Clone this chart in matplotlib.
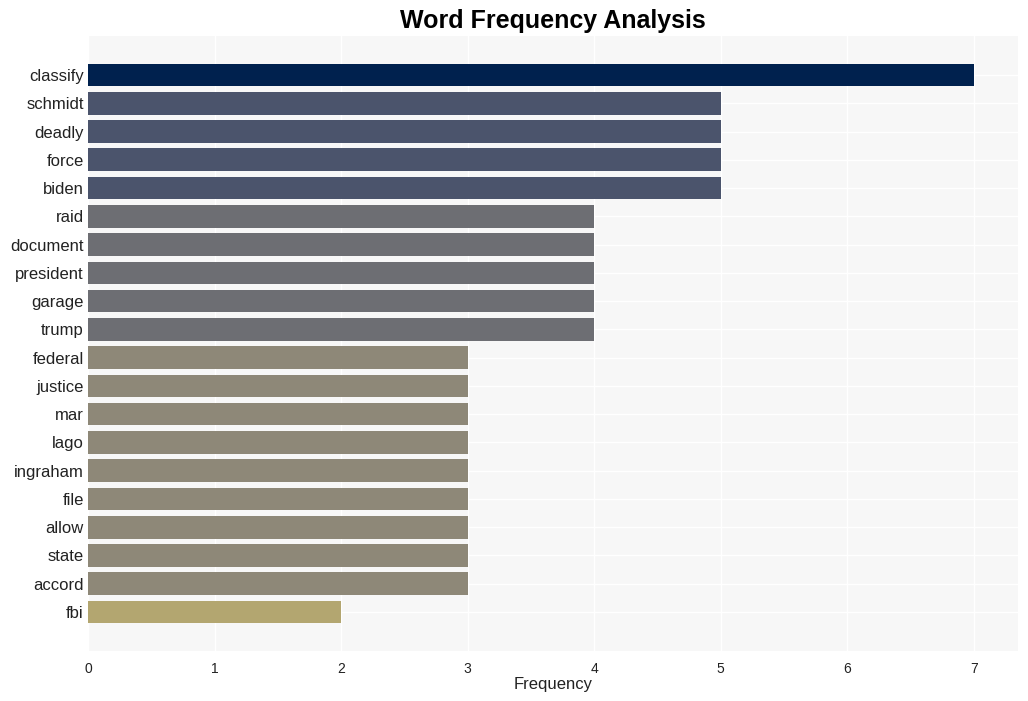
import matplotlib
matplotlib.use("Agg")
import matplotlib.pyplot as plt

words = ["classify", "schmidt", "deadly", "force", "biden", "raid", "document",
         "president", "garage", "trump", "federal", "justice", "mar", "lago",
         "ingraham", "file", "allow", "state", "accord", "fbi"]
counts = [7, 5, 5, 5, 5, 4, 4, 4, 4, 4, 3, 3, 3, 3, 3, 3, 3, 3, 3, 2]
color_by_count = {7: "#00214e", 5: "#4b546c", 4: "#6d6e73", 3: "#8e8878", 2: "#b3a670"}

plt.rcParams["font.family"] = ["Liberation Sans", "DejaVu Sans"]

fig = plt.figure(figsize=(10.28, 7.01), dpi=100)
ax = fig.add_axes([88 / 1028, 1 - 651 / 701, 930 / 1028, 615 / 701])
ax.set_facecolor("#f7f7f7")

ypos = list(range(len(words)))
ax.barh(ypos, counts, height=0.8, color=[color_by_count[c] for c in counts], zorder=2)
ax.set_yticks(ypos)
ax.set_yticklabels(words, fontsize=12, color="#222222")
ax.set_ylim(len(words) - 1 + 1.38, -1.38)
ax.set_xlim(0, 7.35)
ax.set_xticks(range(8))
ax.tick_params(axis="x", labelsize=10, colors="#222222", length=0, pad=8)
ax.tick_params(axis="y", length=0, pad=3)
ax.grid(True, color="white", linewidth=1, zorder=0)
ax.set_axisbelow(True)
for s in ax.spines.values():
    s.set_visible(False)
ax.set_xlabel("Frequency", fontsize=12, color="#222222", labelpad=0.5)
fig.text(553 / 1028, 1 - 21 / 701, "Word Frequency Analysis", ha="center", va="center",
         fontsize=18, fontweight="bold")

fig.savefig("out.png", dpi=100)
